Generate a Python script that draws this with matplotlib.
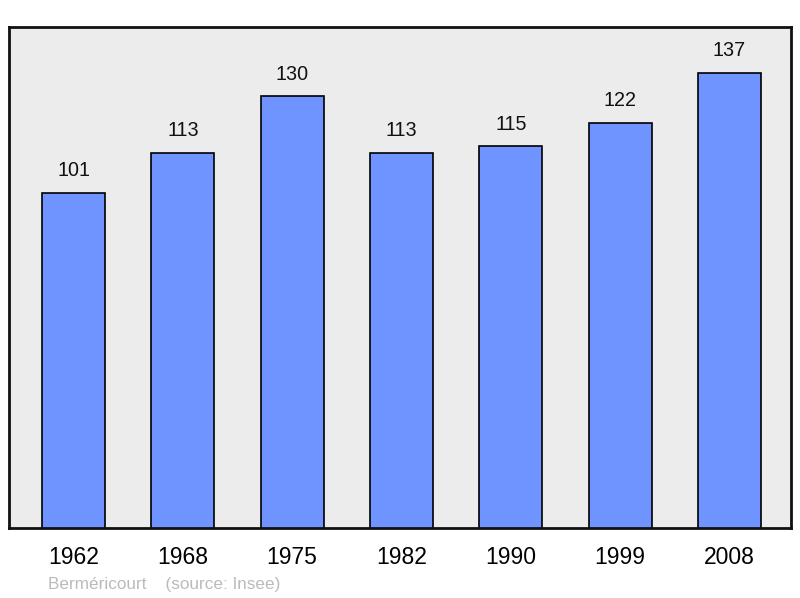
import matplotlib
matplotlib.use("Agg")
import matplotlib.pyplot as plt

years = ["1962", "1968", "1975", "1982", "1990", "1999", "2008"]
population = [101, 113, 130, 113, 115, 122, 137]

plt.rcParams['font.family'] = ['Liberation Sans', 'DejaVu Sans']

fig = plt.figure(figsize=(8, 5.98), dpi=100)
ax = fig.add_axes([9/800, 1 - 528/598, (791-9)/800, (528-27)/598])
ax.set_facecolor('#ececec')

x = range(len(years))
ax.bar(x, population, width=0.576, color='#7094ff', edgecolor='black', linewidth=1.2, zorder=2)
for i, v in zip(x, population):
    ax.annotate(str(v), (i, v), xytext=(0, 16), textcoords='offset points',
                ha='center', va='center', fontsize=14.2, color='#111111')

ax.set_xlim(-0.59, 6.5625)
ax.set_ylim(0.5, 150.8)
ax.set_yticks([])
ax.set_xticks(list(x))
ax.set_xticklabels(years, fontsize=16.5)
ax.tick_params(axis='x', length=0, pad=13)
for s in ax.spines.values():
    s.set_linewidth(2)
    s.set_color('#111111')

fig.text(48/800, 1 - 584/598, "Berméricourt    (source: Insee)", fontsize=12.3,
         color='#bbbbbb', va='center', ha='left')

fig.savefig("out.png", dpi=100)
